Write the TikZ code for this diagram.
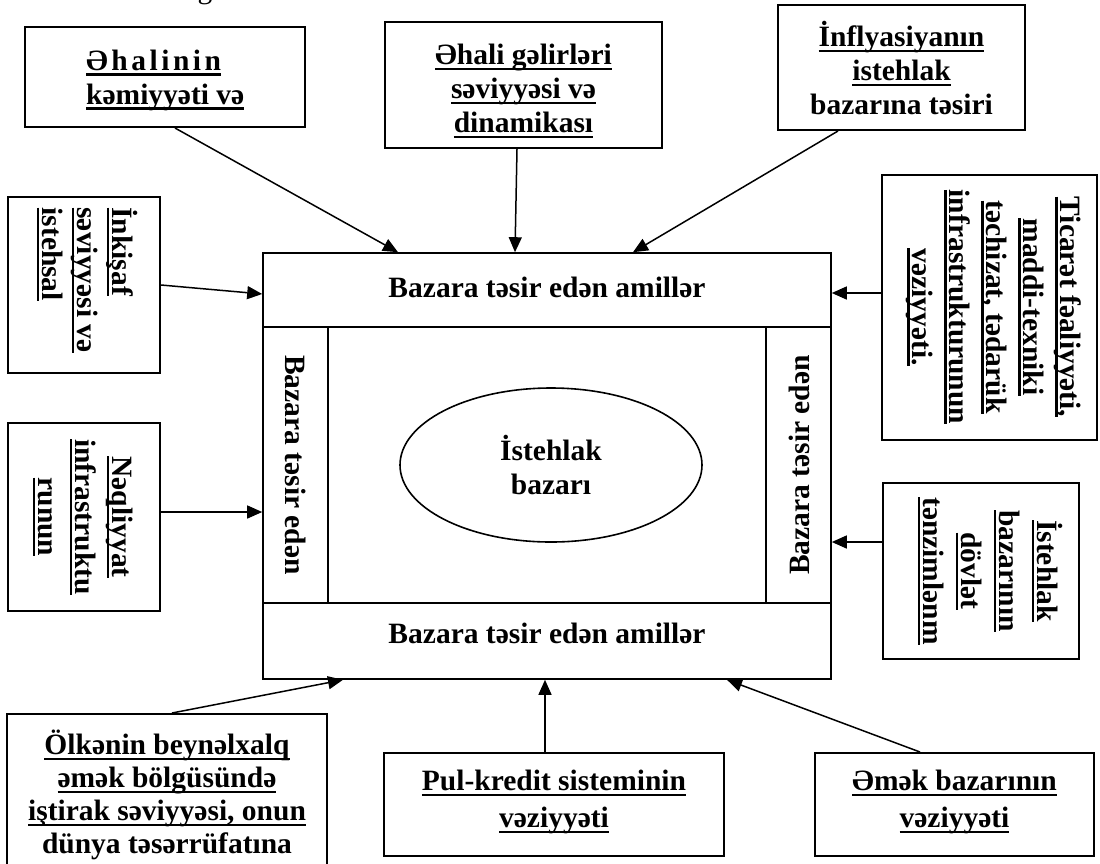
\documentclass[tikz,border=0pt]{standalone}
\usepackage{fontspec}
\setmainfont{Liberation Serif}
\usetikzlibrary{arrows.meta,shapes.geometric}
% bold underline drawn under a single line of text
\newcommand\uln[1]{\setbox0\hbox{#1}\leavevmode\rlap{\rule[-5.5pt]{\wd0}{2.2pt}}\box0}
\newcommand\lk{\kern3.5pt}

\begin{document}
\begin{tikzpicture}[x=1pt,y=-1pt,
  box/.style={draw, line width=2pt, inner sep=0pt},
  part/.style={draw, line width=1.6pt, inner sep=0pt},
  txt/.style={font=\fontsize{29.5}{34}\selectfont\bfseries, align=center, inner sep=0pt},
  arr/.style={line width=1.5pt, -{Triangle[length=15pt,width=13pt]}},
]
\useasboundingbox[fill=white] (0,0) rectangle (1100,863);

% descender of a line above the figure
\node[font=\fontsize{29.5}{34}\selectfont, anchor=base, inner sep=0pt] (frag) at (205,-2) {g};

% central frame
\node[part, minimum width=568pt, minimum height=426pt] (frame) at (547,466) {};
\node[part, minimum width=568pt, minimum height=74pt] (topband) at (547,290) {};
\node[part, minimum width=568pt, minimum height=76pt] (botband) at (547,641) {};
\node[part, minimum width=65pt, minimum height=276pt] (leftcol) at (295.5,465) {};
\node[part, minimum width=65pt, minimum height=276pt] (rightcol) at (798.5,465) {};
\node[txt] (ttop) at (547,287) {Bazara təsir edən amillər};
\node[txt] (tbot) at (547,633) {Bazara təsir edən amillər};
\node[txt, rotate=-90] (tleft) at (296,465) {Bazara təsir edən};
\node[txt, rotate=90] (tright) at (799,465) {Bazara təsir edən};
\node[draw, ellipse, line width=1.6pt, inner sep=0pt, minimum width=302pt, minimum height=154pt,
      font=\fontsize{29.5}{34}\selectfont\bfseries, align=center] (mkt) at (551,465) {İstehlak\\bazarı};

% outer factor boxes
\node[box, minimum width=280pt, minimum height=100pt] (A) at (165,77) {};
\node[txt, align=left, anchor=west] (tA) at (86,80)
  {\uln{Ə\lk h\lk a\lk l\lk i\lk n\lk i\lk n}\\\uln{kəmiyyəti və}};

\node[box, minimum width=277pt, minimum height=126pt] (B) at (523.5,85) {};
\node[txt] (tB) at (523.5,91) {\uln{Əhali gəlirləri}\\\uln{səviyyəsi və}\\\uln{dinamikası}};

\node[box, minimum width=247pt, minimum height=125pt] (C) at (901.5,67.5) {};
\node[txt] (tC) at (901.5,68) {\uln{İnflyasiyanın}\\\uln{istehlak}\\bazarına təsiri};

\node[box, minimum width=152pt, minimum height=176pt] (D) at (84,285) {};
\node[txt, rotate=-90, align=left, font=\fontsize{29.5}{35}\selectfont\bfseries] (tD) at (87,280)
  {\uln{İnkişaf}\\\uln{səviyyəsi və}\\\uln{istehsal}};

\node[box, minimum width=152pt, minimum height=188pt] (E) at (84,517) {};
\node[txt, rotate=-90, font=\fontsize{29.5}{37}\selectfont\bfseries] (tE) at (83,517)
  {\uln{Nəqliyyat}\\\uln{infrastruktu}\\\uln{runun}};

\node[box, minimum width=215pt, minimum height=265pt] (F) at (989.5,307.5) {};
\node[txt, rotate=-90, font=\fontsize{29.5}{37}\selectfont\bfseries] (tF) at (994,307)
  {\uln{Ticarət fəaliyyəti,}\\\uln{maddi-texniki}\\\uln{təchizat, tədarük}\\\uln{infrastrukturunun}\\\uln{vəziyyəti.}};

\node[box, minimum width=196pt, minimum height=176pt] (G) at (981,571) {};
\node[txt, rotate=-90, font=\fontsize{29.5}{38}\selectfont\bfseries] (tG) at (990,571)
  {\uln{İstehlak}\\\uln{bazarının}\\\uln{dövlət}\\\uln{tənzimlənm}};

\node[box, minimum width=320pt, minimum height=166pt] (H) at (167,797) {};
\node[txt, font=\fontsize{29.5}{33}\selectfont\bfseries] (tH) at (167,795)
  {\uln{Ölkənin beynəlxalq}\\\uln{əmək bölgüsündə}\\\uln{iştirak səviyyəsi, onun}\\dünya təsərrüfatına};

\node[box, minimum width=340pt, minimum height=103pt] (I) at (554,804.5) {};
\node[txt, font=\fontsize{29.5}{37}\selectfont\bfseries] (tI) at (554,802) {\uln{Pul-kredit sisteminin}\\\uln{vəziyyəti}};

\node[box, minimum width=279pt, minimum height=103pt] (J) at (954.5,804.5) {};
\node[txt, font=\fontsize{29.5}{37}\selectfont\bfseries] (tJ) at (954.5,802) {\uln{Əmək bazarının}\\\uln{vəziyyəti}};

% connectors
\draw[arr] ([xshift=10pt]A.south) -- ([xshift=-149pt]topband.north);
\draw[arr] ([xshift=-6.5pt]B.south) -- ([xshift=-32pt]topband.north);
\draw[arr] ([xshift=-63.5pt]C.south) -- ([xshift=86pt]topband.north);
\draw[arr] (D.east) -- ([yshift=-4pt]topband.west);
\draw[arr] ([yshift=5pt]E.east) -- ([yshift=-47pt]leftcol.west);
\draw[arr] ([yshift=14.5pt]F.west) -- ([yshift=-3pt]topband.east);
\draw[arr] ([yshift=29pt]G.west) -- ([yshift=-77pt]rightcol.east);
\draw[arr] ([xshift=5pt]H.north) -- ([xshift=-204pt]botband.south);
\draw[arr] ([xshift=-9pt]I.north) -- ([xshift=-2pt]botband.south);
\draw[arr] ([xshift=-34.5pt]J.north) -- ([xshift=180pt]botband.south);
\end{tikzpicture}
\end{document}
